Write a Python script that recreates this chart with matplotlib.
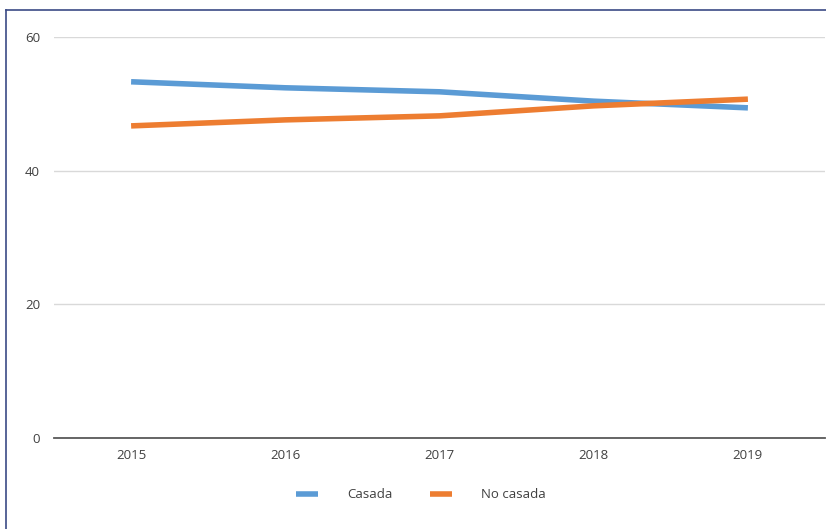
import matplotlib.pyplot as plt
from matplotlib.lines import Line2D

# Datos
years = ['2015', '2016', '2017', '2018', '2019']
casada = [53.3, 52.4, 51.8, 50.4, 49.4]
no_casada = [46.7, 47.6, 48.2, 49.7, 50.7]

plt.rcParams['font.family'] = ['Open Sans', 'DejaVu Sans']

fig = plt.figure(figsize=(8.26, 5.29), dpi=100)
ax = fig.add_axes([54 / 826, 1 - 438 / 529, 771 / 826, 401 / 529])

x = range(len(years))
ax.plot(x, casada, color='#5B9BD5', lw=4, solid_capstyle='butt', label='Casada')
ax.plot(x, no_casada, color='#ED7D31', lw=4, solid_capstyle='butt', label='No casada')

ax.set_xlim(-0.5, len(years) - 0.5)
ax.set_ylim(0, 60)
ax.set_yticks([0, 20, 40, 60])
ax.set_xticks(list(x))
ax.set_xticklabels(years)
ax.yaxis.grid(True, color='#D9D9D9', lw=1)
ax.set_axisbelow(True)
for s in ['top', 'right', 'left']:
    ax.spines[s].set_visible(False)
ax.spines['bottom'].set_color('#595959')
ax.spines['bottom'].set_linewidth(1.3)
ax.tick_params(axis='both', length=0, labelsize=9.5, colors='#404040', pad=10)
ax.tick_params(axis='x', pad=8)

fig.legend(loc='center', bbox_to_anchor=(421 / 826, 1 - 495 / 529), ncol=2,
           frameon=False, fontsize=9.5, handlelength=1.7, columnspacing=2.8,
           handletextpad=2.2, labelcolor='#404040')

# Marco
fig.add_artist(Line2D([6 / 826, 6 / 826], [0, 1 - 10 / 529], color='#3B4A85', lw=1.2))
fig.add_artist(Line2D([6 / 826, 1], [1 - 10 / 529, 1 - 10 / 529], color='#3B4A85', lw=1.2))

fig.savefig('out.png', dpi=100)
